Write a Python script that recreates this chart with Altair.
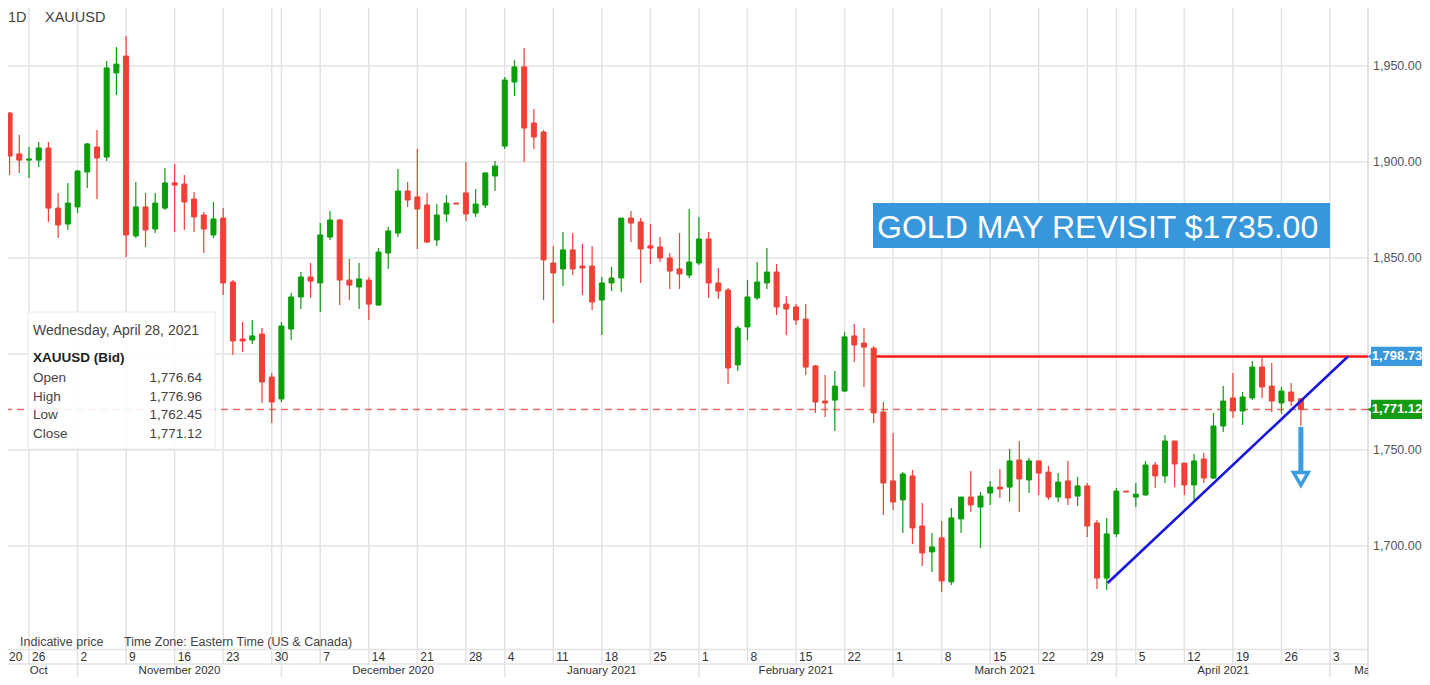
import altair as alt
import pandas as pd

# ---------------- data (XAUUSD daily) ----------------
opens = [1907.8, 1925.5, 1904.2, 1901.0, 1901.0, 1907.3, 1876.0, 1867.7, 1876.6, 1894.8,
         1907.8, 1902.6, 1946.4, 1955.2, 1861.5, 1876.6, 1865.1, 1876.0, 1889.1, 1888.5,
         1880.7, 1872.4, 1862.0, 1870.8, 1837.5, 1807.8, 1807.3, 1810.4, 1788.0, 1776.6,
         1813.0, 1829.7, 1840.1, 1837.0, 1860.9, 1869.8, 1838.5, 1834.9, 1838.5, 1825.5,
         1852.6, 1863.0, 1884.9, 1881.8, 1877.6, 1859.4, 1872.9, 1878.6, 1883.9, 1873.4,
         1877.6, 1892.7, 1908.3, 1941.7, 1949.5, 1920.3, 1915.6, 1847.4, 1844.3, 1854.2,
         1845.8, 1845.8, 1828.1, 1837.0, 1839.6, 1870.8, 1868.8, 1856.3, 1855.7, 1850.0,
         1844.3, 1841.1, 1847.4, 1859.9, 1837.0, 1833.3, 1794.3, 1814.1, 1829.2, 1837.0,
         1842.7, 1826.0, 1824.5, 1818.2, 1793.8, 1775.5, 1776.0, 1780.7, 1809.4, 1805.7,
         1803.0, 1769.8, 1733.9, 1724.0, 1736.5, 1710.4, 1696.9, 1704.2, 1681.3, 1714.1,
         1725.5, 1720.3, 1727.6, 1730.7, 1730.7, 1744.8, 1734.4, 1744.3, 1738.5, 1725.5,
         1733.9, 1726.0, 1731.3, 1712.0, 1683.3, 1706.3, 1728.6, 1725.5, 1726.6, 1742.2,
         1736.5, 1754.7, 1743.2, 1731.8, 1745.3, 1735.4, 1762.5, 1777.1, 1770.3, 1777.1,
         1793.2, 1783.3, 1774.5, 1780.2, 1776.64]
highs = [1930.7, 1926.0, 1914.1, 1907.8, 1910.4, 1910.4, 1883.9, 1889.1, 1895.8, 1909.9,
         1916.7, 1952.6, 1959.9, 1965.6, 1889.6, 1883.9, 1883.9, 1896.9, 1899.0, 1893.2,
         1884.4, 1874.0, 1879.2, 1876.0, 1838.5, 1816.7, 1817.7, 1813.5, 1790.1, 1816.7,
         1831.8, 1842.7, 1847.4, 1868.2, 1874.5, 1870.3, 1849.5, 1847.4, 1840.0, 1855.2,
         1866.1, 1896.4, 1889.6, 1906.8, 1883.9, 1878.1, 1882.8, 1878.6, 1900.0, 1885.9,
         1894.3, 1900.5, 1944.3, 1953.1, 1959.4, 1927.6, 1916.7, 1856.3, 1863.5, 1863.0,
         1857.3, 1856.3, 1840.1, 1845.3, 1870.8, 1874.5, 1870.8, 1867.7, 1860.9, 1852.6,
         1863.0, 1875.5, 1871.4, 1863.5, 1844.8, 1834.4, 1814.6, 1838.5, 1847.9, 1855.2,
         1846.9, 1830.2, 1826.0, 1826.0, 1794.3, 1789.1, 1791.1, 1811.5, 1815.6, 1813.5,
         1804.2, 1775.0, 1758.9, 1738.5, 1739.6, 1722.4, 1706.8, 1713.0, 1719.8, 1725.5,
         1739.1, 1728.1, 1733.9, 1740.1, 1750.5, 1754.7, 1745.8, 1744.3, 1741.7, 1738.0,
         1744.3, 1736.0, 1732.8, 1713.5, 1714.6, 1730.2, 1728.6, 1732.8, 1744.3, 1743.8,
         1757.8, 1754.7, 1743.2, 1747.9, 1748.4, 1769.3, 1783.3, 1790.1, 1780.2, 1796.4,
         1797.9, 1795.3, 1782.8, 1784.9, 1776.96]
lows = [1906.8, 1893.2, 1894.3, 1891.7, 1897.4, 1868.8, 1860.4, 1864.6, 1873.4, 1886.5,
        1880.7, 1900.5, 1934.9, 1850.5, 1860.4, 1855.7, 1863.0, 1875.0, 1863.5, 1864.6,
        1863.5, 1852.6, 1860.4, 1830.7, 1799.5, 1801.0, 1805.2, 1774.5, 1764.1, 1775.0,
        1807.3, 1823.4, 1829.2, 1821.9, 1859.4, 1825.5, 1828.1, 1823.4, 1817.7, 1825.0,
        1844.3, 1861.0, 1876.6, 1854.7, 1857.8, 1856.3, 1868.8, 1878.1, 1869.3, 1871.4,
        1876.0, 1884.9, 1906.8, 1934.4, 1900.0, 1906.8, 1828.1, 1816.1, 1835.4, 1841.1,
        1830.7, 1822.9, 1809.9, 1832.8, 1832.3, 1858.3, 1837.0, 1846.9, 1847.9, 1833.9,
        1833.9, 1839.6, 1846.4, 1829.2, 1828.6, 1784.4, 1791.1, 1807.3, 1828.1, 1833.9,
        1820.3, 1809.9, 1815.1, 1789.1, 1769.3, 1767.2, 1759.9, 1780.2, 1795.8, 1782.8,
        1764.1, 1716.1, 1718.8, 1706.8, 1701.0, 1689.6, 1686.5, 1676.0, 1679.7, 1706.8,
        1717.7, 1699.0, 1721.4, 1725.0, 1722.9, 1717.7, 1727.6, 1726.6, 1724.0, 1722.9,
        1721.4, 1720.8, 1704.7, 1677.6, 1677.1, 1704.7, 1728.1, 1720.3, 1726.0, 1730.2,
        1732.8, 1730.7, 1726.6, 1724.0, 1732.8, 1734.9, 1759.4, 1766.7, 1763.0, 1776.0,
        1777.1, 1769.8, 1768.8, 1772.9, 1762.45]
closes = [1924.5, 1903.1, 1901.0, 1901.6, 1907.3, 1876.0, 1867.2, 1878.6, 1895.3, 1909.4,
          1902.1, 1949.0, 1951.0, 1862.0, 1876.6, 1864.6, 1878.6, 1889.1, 1888.0, 1879.2,
          1871.4, 1865.1, 1870.3, 1837.0, 1806.8, 1806.8, 1809.4, 1785.4, 1775.0, 1814.6,
          1829.7, 1840.1, 1838.0, 1862.0, 1869.8, 1838.5, 1835.9, 1839.1, 1826.0, 1853.1,
          1864.1, 1884.9, 1880.2, 1875.5, 1858.3, 1872.4, 1878.6, 1878.1, 1872.9, 1878.1,
          1894.3, 1897.9, 1942.7, 1949.5, 1917.7, 1913.0, 1849.0, 1842.2, 1854.2, 1844.3,
          1844.8, 1827.1, 1837.0, 1839.6, 1870.8, 1868.2, 1854.7, 1855.2, 1850.0, 1843.2,
          1841.7, 1847.9, 1859.9, 1837.0, 1832.8, 1792.7, 1813.5, 1829.7, 1837.5, 1842.7,
          1824.5, 1823.4, 1817.7, 1793.2, 1775.0, 1774.5, 1783.3, 1808.9, 1804.7, 1803.6,
          1769.3, 1732.8, 1722.9, 1737.5, 1709.4, 1696.4, 1699.5, 1681.8, 1714.6, 1725.5,
          1721.4, 1726.0, 1730.7, 1729.7, 1744.3, 1734.9, 1744.3, 1738.0, 1725.5, 1733.3,
          1725.0, 1731.3, 1710.4, 1683.3, 1706.3, 1728.6, 1728.1, 1727.0, 1742.2, 1736.5,
          1754.7, 1742.7, 1731.8, 1744.3, 1735.4, 1762.5, 1775.5, 1770.3, 1777.6, 1793.2,
          1782.8, 1775.5, 1780.7, 1775.5, 1771.12]

# trading calendar (weekdays, Jan 1 closed) -> x position = trading-day index
calendar = [d for d in pd.bdate_range("2020-10-21", "2021-05-14") if d != pd.Timestamp("2021-01-01")]
pos = {d.strftime("%Y-%m-%d"): i for i, d in enumerate(calendar)}

week_dates = ["2020-10-26", "2020-11-02", "2020-11-09", "2020-11-16", "2020-11-23", "2020-11-30",
              "2020-12-07", "2020-12-14", "2020-12-21", "2020-12-28", "2021-01-04", "2021-01-11",
              "2021-01-18", "2021-01-25", "2021-02-01", "2021-02-08", "2021-02-15", "2021-02-22",
              "2021-03-01", "2021-03-08", "2021-03-15", "2021-03-22", "2021-03-29", "2021-04-05",
              "2021-04-12", "2021-04-19", "2021-04-26", "2021-05-03"]
day_labels = ["26", "2", "9", "16", "23", "30", "7", "14", "21", "28", "4", "11", "18", "25",
              "1", "8", "15", "22", "1", "8", "15", "22", "29", "5", "12", "19", "26", "3"]
first_day_label = "20"
month_bounds = ["2020-11-02", "2020-12-01", "2021-01-04", "2021-02-01", "2021-03-01",
                "2021-04-01", "2021-05-03"]
month_names = ["Oct", "November 2020", "December 2020", "January 2021", "February 2021",
               "March 2021", "April 2021", "May 2021"]

y_grid = [1700, 1750, 1800, 1850, 1900, 1950]
y_label_vals = [1700, 1750, 1850, 1900, 1950]
y_labels = ["1,700.00", "1,750.00", "1,850.00", "1,900.00", "1,950.00"]

resistance = 1798.73
resistance_start = "2021-02-25"
trend_x = [114.1, 138.85]
trend_y = [1680.7, 1798.73]
arrow_top, arrow_bottom, arrow_target = 1762.0, 1738.5, 1735.0
note_text = "GOLD MAY REVISIT $1735.00"
note_box_x = [89.93, 137.0]
note_box_y = [1855.2, 1878.6]
note_text_pos = (90.35, 1860.4)

info_date = "Wednesday, April 28, 2021"
info_title = "XAUUSD (Bid)"
info_names = ["Open", "High", "Low", "Close"]
info_vals = [opens[-1], highs[-1], lows[-1], closes[-1]]

# ---------------- layout / style ----------------
FONT = "Liberation Sans, Arial, Helvetica, sans-serif"
GREEN = "#0a9e0a"
RED = "#ee4036"
GRID = "#e3e3e3"
W, H = 1360, 669
XMIN, XMAX = 0.8374, 140.914
XS = alt.Scale(domain=[XMIN, XMAX], nice=False, zero=False, padding=0)
YS = alt.Scale(domain=[1631.77, 1980.21], nice=False, zero=False, padding=0)
one = pd.DataFrame({"k": [0]})


def xq(f):
    return alt.X(f, type="quantitative", scale=XS, axis=None)


def yq(f):
    return alt.Y(f, type="quantitative", scale=YS, axis=None)


def px_text(texts, xs, ys, size, color="#444444", weight="normal", align="left"):
    df = pd.DataFrame({"t": texts, "px": xs, "py": ys})
    return alt.Chart(df).mark_text(align=align, baseline="alphabetic", fontSize=size,
                                   fontWeight=weight, color=color, font=FONT).encode(
        x=alt.X("px:Q", scale=None), y=alt.Y("py:Q", scale=None), text="t:N")


candles = pd.DataFrame({"i": list(range(len(opens))), "open": opens, "high": highs,
                        "low": lows, "close": closes})
candles["dir"] = ["up" if c >= o else "down" for o, c in zip(opens, closes)]
candles["top"] = [max(o, c) for o, c in zip(opens, closes)]
candles["bot"] = [min(o, c) for o, c in zip(opens, closes)]
cscale = alt.Scale(domain=["up", "down"], range=[GREEN, RED])

week_idx = [pos[d] for d in week_dates]
month_idx = [pos[d] for d in month_bounds]
grid_idx = sorted(set(week_idx + month_idx))
edges = [0.0] + month_idx + [147.2]
month_centers = [(a + b) / 2 for a, b in zip(edges[:-1], edges[1:])]

BAND_TOP, DAY_BASE, SEP, MONTH_BASE = 641.5, 653.2, 656, 666.3

# ---------------- layers ----------------
hgrid = alt.Chart(pd.DataFrame({"v": y_grid})).mark_rule(color=GRID, strokeWidth=1.5).encode(y=yq("v"))
vgrid = alt.Chart(pd.DataFrame({"i": grid_idx})).mark_rule(color=GRID, strokeWidth=1.5).encode(
    x=xq("i"), y=alt.value(0), y2=alt.value(SEP))
mgrid = alt.Chart(pd.DataFrame({"i": month_idx})).mark_rule(color=GRID, strokeWidth=1.5, clip=True).encode(
    x=xq("i"), y=alt.value(SEP), y2=alt.value(H))
band1 = alt.Chart(one).mark_rule(color=GRID, strokeWidth=1.5).encode(
    x=alt.value(0), x2=alt.value(W), y=alt.value(BAND_TOP))
band2 = alt.Chart(one).mark_rule(color=GRID, strokeWidth=1.5).encode(
    x=alt.value(0), x2=alt.value(W), y=alt.value(SEP))
edge = alt.Chart(one).mark_rule(color="#d8d8d8", strokeWidth=1.5).encode(
    x=alt.value(W), y=alt.value(0), y2=alt.value(H))
ylabels = alt.Chart(pd.DataFrame({"v": y_label_vals, "t": y_labels})).mark_text(
    align="left", baseline="middle", fontSize=12.5, color="#555555", font=FONT).encode(
    x=alt.value(W + 5), y=yq("v"), text="t:N")

dashed = alt.Chart(pd.DataFrame({"v": [closes[-1]]})).mark_rule(
    color="#f26a6a", strokeWidth=1.5, strokeDash=[7, 5]).encode(y=yq("v"))

wicks = alt.Chart(candles).mark_rule(strokeWidth=1.2, clip=True).encode(
    x=xq("i"), y=yq("low"), y2="high:Q",
    color=alt.Color("dir:N", scale=cscale, legend=None))
bodies = alt.Chart(candles).mark_bar(size=5, strokeWidth=1, clip=True).encode(
    x=xq("i"), y=yq("bot"), y2="top:Q",
    color=alt.Color("dir:N", scale=cscale, legend=None),
    stroke=alt.Stroke("dir:N", scale=cscale, legend=None))

res = alt.Chart(pd.DataFrame({"x": [pos[resistance_start]], "x2": [XMAX], "v": [resistance]})).mark_rule(
    color="#ff1414", strokeWidth=2.6).encode(x=xq("x"), x2="x2:Q", y=yq("v"))

trend = alt.Chart(pd.DataFrame({"x": trend_x, "v": trend_y})).mark_line(
    color="#1616e2", strokeWidth=2.6).encode(x=xq("x"), y=yq("v"))

ax = pos["2021-04-28"]
shaft = alt.Chart(pd.DataFrame({"x": [ax], "v1": [arrow_top], "v2": [arrow_bottom]})).mark_rule(
    color="#3d9be0", strokeWidth=5).encode(x=xq("x"), y=yq("v1"), y2="v2:Q")
head = alt.Chart(pd.DataFrame({"x": [ax], "v": [arrow_target]})).mark_point(
    shape="triangle-down", size=220, filled=True, fill="white", stroke="#3d9be0",
    strokeWidth=3.5, opacity=1).encode(x=xq("x"), y=yq("v"))

note_box = alt.Chart(pd.DataFrame({"x1": [note_box_x[0]], "x2": [note_box_x[1]],
                                   "v1": [note_box_y[0]], "v2": [note_box_y[1]]})).mark_rect(
    color="#3897db").encode(x=xq("x1"), x2="x2:Q", y=yq("v1"), y2="v2:Q")
note = alt.Chart(pd.DataFrame({"x": [note_text_pos[0]], "v": [note_text_pos[1]], "t": [note_text]})).mark_text(
    align="left", baseline="alphabetic", fontSize=32, color="white", font=FONT).encode(
    x=xq("x"), y=yq("v"), text="t:N")

panel = alt.Chart(one).mark_rect(fill="white", fillOpacity=0.88, stroke="#e8e8e8", strokeWidth=1).encode(
    x=alt.value(20), x2=alt.value(207), y=alt.value(304), y2=alt.value(441))
p_date = px_text([info_date], [25], [327], 14)
p_title = px_text([info_title], [25], [354], 13.5, color="#222222", weight="bold")
p_names = px_text(info_names, [25] * 4, [374, 392.7, 411.3, 430], 13.5)
p_vals = px_text([f"{v:,.2f}" for v in info_vals], [194] * 4, [374, 392.7, 411.3, 430], 13.5, align="right")

header = px_text(["1D", "XAUUSD"], [0, 37], [13.5, 13.5], 14.5)
footer = px_text(["Indicative price", "Time Zone: Eastern Time (US & Canada)"], [12, 116], [637.5, 637.5], 12.5)

days = alt.Chart(pd.DataFrame({"i": week_idx, "t": day_labels})).mark_text(
    align="left", baseline="alphabetic", dx=3, fontSize=12, color="#333333", font=FONT, clip=True).encode(
    x=xq("i"), y=alt.value(DAY_BASE), text="t:N")
day0 = px_text([first_day_label], [1], [DAY_BASE], 12, color="#333333")
months = alt.Chart(pd.DataFrame({"i": month_centers, "t": month_names})).mark_text(
    align="center", baseline="alphabetic", fontSize=11.5, color="#333333", font=FONT, clip=True).encode(
    x=xq("i"), y=alt.value(MONTH_BASE), text="t:N")

badge_df = pd.DataFrame({"v": [resistance, closes[-1]],
                         "lab": [f"{resistance:,.2f}", f"{closes[-1]:,.2f}"],
                         "c": ["#3a98dc", "#139c13"]})
badge_df["top"] = badge_df["v"] + 5.0
badge_df["bot"] = badge_df["v"] - 5.0
badge_rect = alt.Chart(badge_df).mark_rect().encode(
    x=alt.value(W + 3), x2=alt.value(W + 54), y=yq("top"), y2="bot:Q",
    color=alt.Color("c:N", scale=None))
badge_tip = alt.Chart(badge_df).mark_point(shape="triangle-left", filled=True, size=45, opacity=1).encode(
    x=alt.value(W + 2), y=yq("v"), color=alt.Color("c:N", scale=None))
badge_txt = alt.Chart(badge_df).mark_text(
    align="center", baseline="middle", fontSize=13, fontWeight="bold", color="white", font=FONT).encode(
    x=alt.value(W + 29), y=yq("v"), text="lab:N")

chart = alt.layer(
    hgrid, vgrid, mgrid, band1, band2, edge, ylabels, footer, dashed, res, wicks, bodies,
    trend, shaft, head, note_box, note, panel, p_date, p_title, p_names, p_vals, header,
    days, day0, months, badge_rect, badge_tip, badge_txt
).properties(
    width=W, height=H,
    padding={"left": 0, "top": 0, "right": 54, "bottom": 0},
    autosize=alt.AutoSizeParams(type="none"),
    background="white",
).configure_view(stroke="transparent")

chart.save("out.html", embed_options={"renderer": "svg", "actions": False})
